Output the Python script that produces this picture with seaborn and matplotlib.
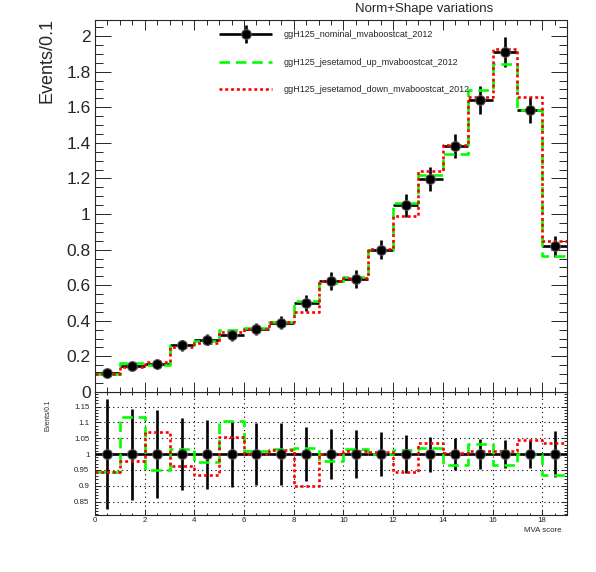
import numpy as np
import matplotlib
matplotlib.use("Agg")
import matplotlib.pyplot as plt
from matplotlib.ticker import MultipleLocator, FuncFormatter
from matplotlib.legend_handler import HandlerErrorbar
import seaborn as sns

# bins of the MVA score (19 bins, width 1)
binEdges = list(range(0, 20))
binCenters = np.arange(19) + 0.5

nominal = np.array([0.109, 0.146, 0.159, 0.262, 0.294, 0.318, 0.354, 0.390, 0.500, 0.624,
                    0.635, 0.800, 1.049, 1.196, 1.383, 1.640, 1.908, 1.584, 0.818])
nominalErr = np.array([0.019, 0.021, 0.022, 0.030, 0.032, 0.033, 0.035, 0.038, 0.043, 0.049,
                       0.048, 0.055, 0.063, 0.066, 0.069, 0.077, 0.084, 0.071, 0.059])
jesUp = np.array([0.103, 0.163, 0.151, 0.266, 0.287, 0.351, 0.358, 0.396, 0.510, 0.611,
                  0.645, 0.800, 1.061, 1.220, 1.336, 1.694, 1.843, 1.585, 0.764])
jesDown = np.array([0.103, 0.143, 0.170, 0.252, 0.275, 0.335, 0.354, 0.395, 0.450, 0.624,
                    0.641, 0.806, 0.989, 1.239, 1.390, 1.656, 1.927, 1.656, 0.846])

labels = ["ggH125_nominal_mvaboostcat_2012",
          "ggH125_jesetamod_up_mvaboostcat_2012",
          "ggH125_jesetamod_down_mvaboostcat_2012"]

sns.set_style("ticks")
plt.rcParams['font.family'] = ['Liberation Sans', 'DejaVu Sans']

fig = plt.figure(figsize=(5.96, 5.72), dpi=100)
ax = fig.add_axes([0.1594, 0.3147, 0.792, 0.6503])
rax = fig.add_axes([0.1594, 0.0997, 0.792, 0.215])
ax.set_zorder(2)

upStyle = dict(color="#00ff00", linewidth=1.9, linestyle=(0, (4, 2.2)))
downStyle = dict(color="#ff0000", linewidth=1.9, linestyle=(0, (1.1, 1.1)))
pointStyle = dict(fmt="o", color="black", ms=7, mec="#555555", mew=0.8,
                  elinewidth=1.9, capsize=0)

# Upper panel
nomCont = ax.errorbar(binCenters, nominal, xerr=0.5, yerr=nominalErr, **pointStyle)
sns.histplot(x=binCenters, weights=jesUp, bins=binEdges, element="step", fill=False,
             ax=ax, **upStyle)
upLine = ax.lines[-1]
sns.histplot(x=binCenters, weights=jesDown, bins=binEdges, element="step", fill=False,
             ax=ax, **downStyle)
downLine = ax.lines[-1]

ax.set_xlim(0, 19)
ax.set_ylim(0, 2.09)
ax.set_xlabel("")
ax.set_ylabel("")
ax.xaxis.set_major_locator(MultipleLocator(2))
ax.xaxis.set_minor_locator(MultipleLocator(0.5))
ax.yaxis.set_major_locator(MultipleLocator(0.2))
ax.yaxis.set_minor_locator(MultipleLocator(0.05))
ax.yaxis.set_major_formatter(FuncFormatter(lambda v, p: f"{round(v, 2):g}"))
ax.tick_params(axis="x", which="both", direction="in", top=True, bottom=True, labelbottom=False, width=0.7)
ax.tick_params(axis="x", which="major", length=7.2)
ax.tick_params(axis="x", which="minor", length=3.6)
ax.tick_params(axis="y", which="both", direction="in", left=True, right=True, width=0.7,
               labelsize=12.5, pad=3)
ax.tick_params(axis="y", which="major", length=11.5)
ax.tick_params(axis="y", which="minor", length=5.8)
for s in ax.spines.values():
    s.set_linewidth(0.8)

ax.legend([nomCont, upLine, downLine], labels, loc="upper left",
          bbox_to_anchor=(0.263, 0.972), frameon=False, fontsize=6.5,
          borderaxespad=0, borderpad=0, handlelength=5.9, handletextpad=1.2,
          labelspacing=2.05, numpoints=1,
          handler_map={type(nomCont): HandlerErrorbar(xerr_size=2.95, yerr_size=1.0)})

# Ratio panel
rax.grid(True, which="major", linestyle=(0, (1, 3)), color="black", linewidth=0.8)
rax.errorbar(binCenters, nominal / nominal, xerr=0.5, yerr=nominalErr / nominal, **pointStyle)
sns.histplot(x=binCenters, weights=jesUp / nominal, bins=binEdges, element="step", fill=False,
             ax=rax, **upStyle)
sns.histplot(x=binCenters, weights=jesDown / nominal, bins=binEdges, element="step", fill=False,
             ax=rax, **downStyle)

rax.set_xlim(0, 19)
rax.set_ylim(0.808, 1.196)
rax.set_xlabel("")
rax.set_ylabel("")
rax.xaxis.set_major_locator(MultipleLocator(2))
rax.xaxis.set_minor_locator(MultipleLocator(0.5))
rax.yaxis.set_major_locator(MultipleLocator(0.05))
rax.yaxis.set_minor_locator(MultipleLocator(0.01))
rax.yaxis.set_major_formatter(FuncFormatter(lambda v, p: f"{round(v, 2):g}"))
rax.tick_params(axis="x", which="both", direction="in", top=True, bottom=True, width=0.7,
                labelsize=5.7, pad=1.5)
rax.tick_params(axis="x", which="major", length=3.6)
rax.tick_params(axis="x", which="minor", length=1.8)
rax.tick_params(axis="y", which="both", direction="in", left=True, right=True, width=0.7,
                labelsize=5.7, pad=4)
rax.tick_params(axis="y", which="major", length=4.5)
rax.tick_params(axis="y", which="minor", length=2.3)
for s in rax.spines.values():
    s.set_linewidth(0.8)

# Titles and axis labels placed like the ROOT canvas
fig.text(424 / 596, 1 - 9 / 572, "Norm+Shape variations", ha="center", va="center", fontsize=9.5)
fig.text(47 / 596, 1 - 18 / 572, "Events/0.1", rotation=90, ha="center", va="top", fontsize=13)
fig.text(48 / 596, 1 - 400 / 572, "Events/0.1", rotation=90, ha="center", va="top", fontsize=4.8)
fig.text(561 / 596, 1 - 531 / 572, "MVA score", ha="right", va="center", fontsize=5.7)

fig.savefig("out.png", dpi=100)
